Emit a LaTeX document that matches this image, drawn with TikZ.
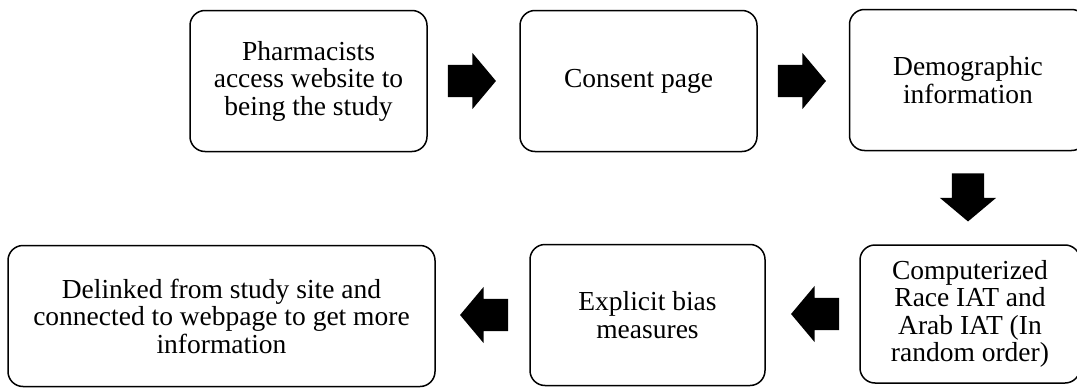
\documentclass[tikz,border=0pt]{standalone}
\usepackage{fontspec}
\setmainfont{Liberation Serif}
\usetikzlibrary{shapes.arrows,positioning}

\begin{document}
\begin{tikzpicture}
  [x=1pt,y=1pt,every node/.style={font=\fontsize{27.5}{27.5}\selectfont}]

	\tikzset{
	stage/.style = {draw,rounded corners=15pt,line width=1.5pt,align=center,minimum height=141pt},
	blockarrow/.style = {single arrow,fill=black,inner xsep=0pt,inner ysep=16pt,minimum height=48pt,
	  single arrow head extend=12pt,single arrow tip angle=100},
	downarrow/.style = {blockarrow,shape border rotate=270,inner xsep=16pt,inner ysep=0pt}
	}

  \useasboundingbox (0,0) rectangle (1077,-388);

  \node[stage,minimum width=237pt] (s1) at (308.5,-81) {Pharmacists\\access website to\\being the study};
  \node[stage,minimum width=237pt] (s2) at (638.5,-81) {Consent page};
  \node[stage,minimum width=237pt] (s3) at (968,-80)  {Demographic\\information};
  \node[stage,minimum width=220pt,minimum height=138pt] (s4) at (970,-314) {Computerized\\Race IAT and\\Arab IAT (In\\random order)};
  \node[stage,minimum width=235pt] (s5) at (647.5,-315) {Explicit bias\\measures};
  \node[stage,minimum width=427pt] (s6) at (221.5,-316) {Delinked from study site and\\connected to webpage to get more\\information};

  \node[blockarrow,right=20pt of s1] (a1) {};
  \node[blockarrow,right=20pt of s2] (a2) {};
  \node[downarrow,below=22pt of s3] (a3) {};
  \node[blockarrow,shape border rotate=180,left=20pt of s4] (a4) {};
  \node[blockarrow,shape border rotate=180,left=21pt of s5] (a5) {};

\end{tikzpicture}
\end{document}
